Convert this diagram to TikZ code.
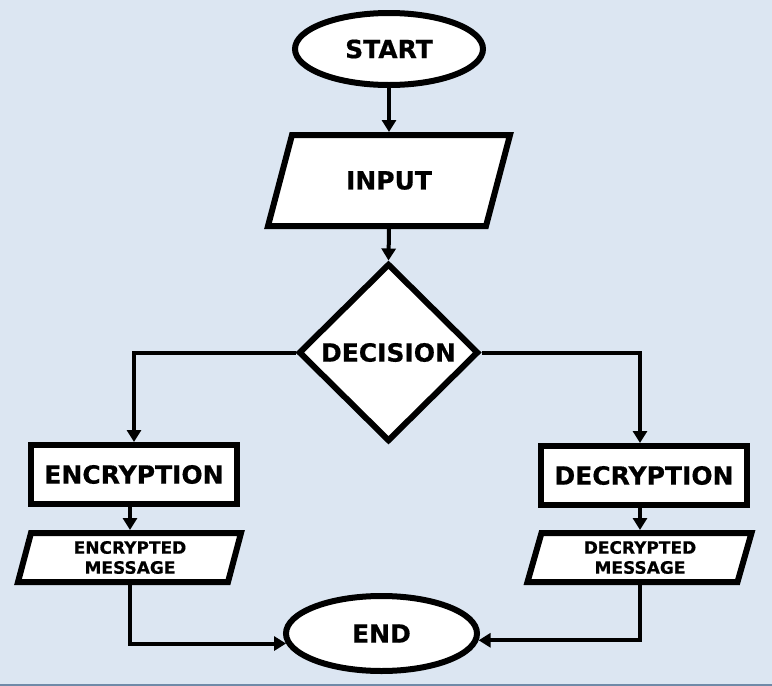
\documentclass[tikz,border=0pt]{standalone}
\usepackage{fontspec}
\newfontfamily\hv[FakeBold=0.6]{DejaVu Sans Bold}
\usetikzlibrary{shapes.geometric,arrows.meta,calc}
\definecolor{bg}{HTML}{DCE6F2}
\definecolor{rulecol}{HTML}{6F8AA8}
% parallelogram: #1 x, #2 y, #3 half width at mid, #4 half height, #5 half slant
\newcommand\pgramshape[5]{%
  \filldraw[outline] ({#1-#3+#5},{#2-#4}) -- ({#1+#3+#5},{#2-#4}) --
    ({#1+#3-#5},{#2+#4}) -- ({#1-#3-#5},{#2+#4}) -- cycle;}
\begin{document}
\begin{tikzpicture}[x=1pt,y=-1pt,
  outline/.style={draw=black,line width=6pt,fill=white,line join=miter},
  shp/.style={outline,inner sep=0pt,align=center,
    font=\hv\fontsize{25}{30}\selectfont},
  txt/.style={inner sep=0pt,outer sep=3pt,align=center,rectangle,
    font=\hv\fontsize{25}{30}\selectfont},
  smalltxt/.style={txt,font=\hv\fontsize{17}{20}\selectfont},
  conn/.style={draw=black,line width=4pt,-{Triangle[length=12pt,width=14pt]}}]
\useasboundingbox (0,0) rectangle (772,686);
\fill[bg] (0,0) rectangle (772,686);
\draw[rulecol,line width=2pt] (0,685) -- (772,685);

\node[shp,ellipse,minimum width=188pt,minimum height=72pt] (start) at (389,49) {START};

\pgramshape{389}{180.5}{109}{45.5}{12}
\node[txt,minimum width=218pt,minimum height=91pt] (inp) at (389,180.5) {INPUT};

\node[shp,diamond,aspect=1,minimum width=180pt,minimum height=178pt] (dec) at (388.5,352.5) {DECISION};
\node[shp,rectangle,minimum width=206pt,minimum height=59pt] (enc) at (134,474.5) {ENCRYPTION};
\node[shp,rectangle,minimum width=206pt,minimum height=59pt] (decr) at (644,475.5) {DECRYPTION};

\pgramshape{129.5}{557.5}{105}{24.5}{6.5}
\node[smalltxt,minimum width=210pt,minimum height=49pt] (encmsg) at (130,557.5) {ENCRYPTED\\MESSAGE};
\pgramshape{639.5}{557.5}{105}{24.5}{7}
\node[smalltxt,minimum width=210pt,minimum height=49pt] (decmsg) at (640,557.5) {DECRYPTED\\MESSAGE};

\node[shp,ellipse,minimum width=191pt,minimum height=75pt] (end) at (381.5,633.5) {END};

\draw[conn] (start.south) -- (inp.north);
\draw[conn] (inp.south) -- (dec.north);
\draw[conn] (dec.west) -| (enc.north);
\draw[conn] (dec.east) -| (decr.north -| decmsg.north);
\draw[conn] (enc.south -| encmsg.north) -- (encmsg.north);
\draw[conn] (decr.south -| decmsg.north) -- (decmsg.north);
\draw[conn] (encmsg.south) |- (end.186);
\draw[conn] (decmsg.south) |- (end.356);
\end{tikzpicture}
\end{document}
